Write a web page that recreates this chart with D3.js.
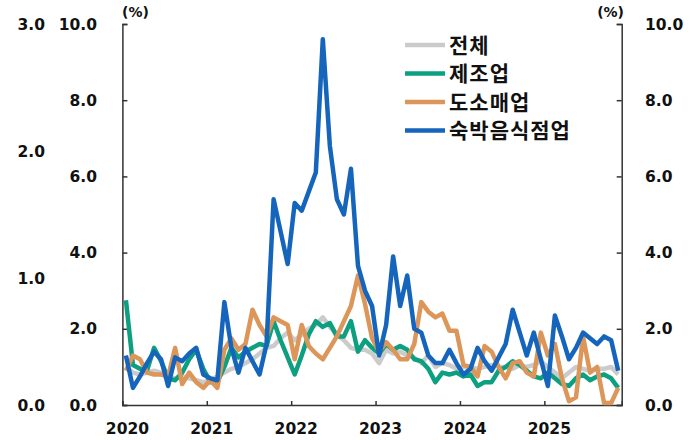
<!DOCTYPE html>
<html>
<head>
<meta charset="utf-8">
<script src="https://cdn.jsdelivr.net/npm/d3@7"></script>
<style>
  body { margin: 0; background: #fff; }
  svg text { font-family: "DejaVu Sans", Verdana, sans-serif; font-weight: bold; fill: #111; }
  .legend text { font-family: "Noto Sans CJK KR", "Noto Sans", sans-serif; font-weight: bold; }
</style>
</head>
<body>
<svg id="chart"></svg>
<script>
// years on the x axis (each has 12 monthly points, last year ends in Nov)
let years = ['2020', '2021', '2022', '2023', '2024', '2025']
let nMonths = 71

// monthly values (%)
let total = [1.0, 0.85, 0.8, 0.85, 0.9, 0.85, 0.75, 0.7, 0.75, 0.7, 0.65, 0.6,
    0.65, 0.75, 0.85, 0.95, 1.0, 1.1, 1.2, 1.35, 1.5, 1.55, 1.75, 1.9,
    1.7, 1.85, 2.0, 2.1, 2.3, 2.05, 1.85, 1.7, 1.5, 1.45, 1.45, 1.35,
    1.1, 1.45, 1.35, 1.4, 1.3, 1.25, 1.1, 1.3, 1.0, 1.1, 1.05, 0.95,
    1.0, 1.0, 0.95, 1.0, 1.05, 1.0, 1.0, 0.95, 1.05, 1.0, 1.05, 1.15,
    1.0, 0.85, 0.7, 0.85, 1.0, 0.95, 0.9, 0.95, 0.95, 1.0, 0.8]
let manufacturing = [2.75, 1.05, 0.95, 0.9, 1.5, 1.15, 0.7, 0.65, 0.85, 1.2, 1.45, 0.95,
    0.6, 0.6, 1.0, 1.5, 1.25, 1.4, 1.5, 1.6, 1.55, 2.2, 1.7, 1.25,
    0.8, 1.3, 1.85, 2.2, 2.05, 2.15, 1.8, 1.8, 2.2, 1.4, 1.7, 1.5,
    1.35, 1.6, 1.45, 1.55, 1.45, 1.2, 1.15, 0.95, 0.6, 0.85, 0.8, 0.85,
    0.75, 0.8, 0.5, 0.6, 0.6, 0.9, 1.0, 1.15, 1.05, 0.9, 0.75, 0.7,
    0.85, 0.7, 0.55, 0.5, 0.7, 0.8, 0.65, 0.75, 0.8, 0.7, 0.45]
let retail = [0.9, 1.3, 1.2, 0.85, 0.8, 0.8, 0.75, 1.5, 0.55, 0.85, 0.6, 0.45,
    0.65, 0.45, 1.45, 1.75, 1.45, 1.6, 2.5, 2.1, 1.8, 2.3, 2.2, 2.1,
    1.2, 2.1, 1.55, 1.35, 1.2, 1.5, 1.8, 2.2, 2.6, 3.4, 2.65, 1.75,
    1.4, 1.65, 1.45, 1.2, 1.2, 1.6, 2.7, 2.45, 2.3, 2.4, 1.95, 1.95,
    1.05, 1.0, 0.75, 1.55, 1.4, 1.0, 0.7, 1.1, 1.15, 0.85, 0.75, 1.9,
    1.3, 1.6, 0.7, 0.1, 0.2, 1.8, 0.85, 1.0, 0.05, 0.05, 0.45]
let food = [1.3, 0.45, 0.75, 1.1, 1.4, 1.2, 0.5, 1.25, 1.15, 1.35, 1.5, 0.8,
    0.7, 0.65, 2.7, 1.5, 0.85, 1.5, 1.15, 0.8, 1.6, 5.4, 4.55, 3.7,
    5.3, 5.1, 5.6, 6.1, 9.6, 6.8, 5.4, 5.0, 6.2, 3.65, 3.0, 2.6,
    1.3, 2.1, 3.9, 2.6, 3.4, 2.0, 1.9, 1.3, 1.1, 1.1, 1.45, 1.1,
    0.8, 0.95, 1.5, 1.15, 0.9, 1.25, 1.6, 2.5, 1.9, 1.3, 1.9, 1.2,
    0.5, 2.35, 1.8, 1.2, 1.5, 1.9, 1.75, 1.6, 1.8, 1.7, 0.9]

let seriesNames = ['전체', '제조업', '도소매업', '숙박음식점업']
let seriesColors = ['#cbcbcb', '#0c9f80', '#dc9659', '#1565bd']

let leftTicks = [0, 2, 4, 6, 8, 10]
let outerTicks = [0, 1, 2, 3]

let width = 696, height = 440
let m = {top: 24, left: 122.4, right: 74.3, bottom: 35}

let svg = d3.select('#chart').attr('width', width).attr('height', height)

let xScale = d3.scaleLinear().domain([-0.5, nMonths - 0.5]).range([m.left, width - m.right])
let yScale = d3.scaleLinear().domain([0, 10]).range([height - m.bottom, m.top])
let outerScale = d3.scaleLinear().domain([0, 3]).range([height - m.bottom, m.top])

let axisColor = '#333'

// bottom axis, ticks at the start of each year
let yearStarts = years.map((d, i) => i * 12 - 0.5)
let xAxis = d3.axisBottom(xScale).tickValues(yearStarts).tickSize(-4).tickFormat('')
let gx = svg.append('g')
    .attr('transform', `translate(0, ${height - m.bottom})`)
    .call(xAxis)
gx.select('.domain').attr('stroke', axisColor).attr('stroke-width', 1.5)
gx.selectAll('.tick line').attr('stroke', axisColor).attr('stroke-width', 1.5)

svg.selectAll('.year-label')
    .data(years)
    .enter().append('text')
    .attr('class', 'year-label')
    .attr('x', (d, i) => xScale(i * 12) + 1.5)
    .attr('y', height - m.bottom + 29)
    .attr('text-anchor', 'middle')
    .style('font-size', '15.5px')
    .text(d => d)

// left axis
let yAxisL = d3.axisLeft(yScale).tickValues(leftTicks).tickSize(-5).tickFormat('')
let gl = svg.append('g').attr('transform', `translate(${m.left}, 0)`).call(yAxisL)
gl.select('.domain').attr('stroke', axisColor).attr('stroke-width', 1.5)
gl.selectAll('.tick line').attr('stroke', axisColor).attr('stroke-width', 1.5)

svg.selectAll('.left-label')
    .data(leftTicks)
    .enter().append('text')
    .attr('x', 97)
    .attr('y', d => yScale(d) + 5.5)
    .attr('text-anchor', 'end')
    .style('font-size', '15.5px')
    .text(d => d.toFixed(1))

// right axis
let yAxisR = d3.axisRight(yScale).tickValues(leftTicks).tickSize(-5).tickFormat('')
let gr = svg.append('g').attr('transform', `translate(${width - m.right}, 0)`).call(yAxisR)
gr.select('.domain').attr('stroke', axisColor).attr('stroke-width', 1.5)
gr.selectAll('.tick line').attr('stroke', axisColor).attr('stroke-width', 1.5)

svg.selectAll('.right-label')
    .data(leftTicks)
    .enter().append('text')
    .attr('x', 645)
    .attr('y', d => yScale(d) + 5.5)
    .attr('text-anchor', 'start')
    .style('font-size', '15.5px')
    .text(d => d.toFixed(1))

// outer left labels (0 - 3)
svg.selectAll('.outer-label')
    .data(outerTicks)
    .enter().append('text')
    .attr('x', 45)
    .attr('y', d => outerScale(d) + 5.5)
    .attr('text-anchor', 'end')
    .style('font-size', '15.5px')
    .text(d => d.toFixed(1))

// unit labels
svg.append('text').attr('x', 122).attr('y', 17).style('font-size', '14px').text('(%)')
svg.append('text').attr('x', 624).attr('y', 17).attr('text-anchor', 'end').style('font-size', '14px').text('(%)')

// lines
let allSeries = [total, manufacturing, retail, food]
let line = d3.line()
    .x((d, i) => xScale(i))
    .y(d => yScale(d))

svg.selectAll('.series')
    .data(allSeries)
    .enter().append('path')
    .attr('class', 'series')
    .attr('d', d => line(d))
    .attr('fill', 'none')
    .attr('stroke', (d, i) => seriesColors[i])
    .attr('stroke-width', 4.5)
    .attr('stroke-linejoin', 'round')

// legend
let legend = svg.append('g').attr('class', 'legend')
seriesNames.forEach(function(name, i) {
    let y = 45 + i * 28.5
    legend.append('line')
        .attr('x1', 405).attr('x2', 445)
        .attr('y1', y).attr('y2', y)
        .attr('stroke', seriesColors[i])
        .attr('stroke-width', 4.5)
    legend.append('text')
        .attr('x', 449)
        .attr('y', y + 7.5)
        .style('font-size', '21px')
        .style('letter-spacing', '1px')
        .text(name)
})
</script>
</body>
</html>
